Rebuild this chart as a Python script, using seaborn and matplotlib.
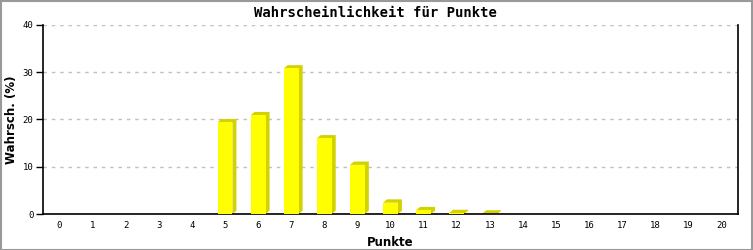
import matplotlib
matplotlib.use("Agg")
import matplotlib.pyplot as plt
import seaborn as sns
import pandas as pd
from matplotlib.patches import Polygon, Rectangle

categories = list(range(0, 21))
values = [0, 0, 0, 0, 0, 19.4, 20.9, 30.8, 16.0, 10.4, 2.4, 0.8, 0.2, 0.1, 0, 0, 0, 0, 0, 0, 0]
yticks = [0, 10, 20, 30, 40]

title = "Wahrscheinlichkeit für Punkte"
xlabel = "Punkte"
ylabel = "Wahrsch. (%)"

sns.set_theme(style="white")
plt.rcParams['font.family'] = ['DejaVu Sans Mono', 'DejaVu Sans']

fig = plt.figure(figsize=(7.53, 2.5), dpi=100)
ax = fig.add_axes([43/753, 36/250, (738-43)/753, (214-25)/250])

df = pd.DataFrame({"Punkte": categories, "Wert": values})

W = 0.45
DX = 0.12
DY = 0.7

# shadow (3D side) drawn from data through axis scales
for x, v in zip(categories, values):
    if v <= 0:
        continue
    x0 = x - W / 2
    x1 = x + W / 2
    poly = Polygon([(x0, v), (x0 + DX, v + DY), (x1 + DX, v + DY), (x1 + DX, DY), (x1, 0), (x1, v)],
                   closed=True, facecolor="#d2d200", edgecolor="none", zorder=2)
    ax.add_patch(poly)

sns.barplot(data=df, x="Punkte", y="Wert", color="#ffff00", width=W, saturation=1,
            edgecolor="none", linewidth=0, ax=ax, zorder=3)
for p, v in zip(ax.patches[-len(values):], values):
    if v <= 0:
        p.set_visible(False)

ax.set_xlim(-0.5, 20.5)
ax.set_ylim(0, 40)
ax.set_yticks(yticks)
ax.set_yticklabels([str(t) for t in yticks])
ax.set_xticks(range(len(categories)))
ax.set_xticklabels([str(c) for c in categories])

ax.grid(axis="y", color="#c0c0c0", linestyle=(0, (2.5, 3.5)), linewidth=1.0, zorder=0)
ax.grid(axis="x", visible=False)
ax.set_axisbelow(True)

for s in ["left", "bottom", "right"]:
    ax.spines[s].set_visible(True)
    ax.spines[s].set_color("black")
    ax.spines[s].set_linewidth(1.2)
ax.spines["top"].set_visible(False)

ax.tick_params(axis="y", which="both", left=True, length=5, width=1, color="black",
               labelsize=6.5, pad=2, labelcolor="black")
ax.tick_params(axis="x", which="both", bottom=False, length=0, labelsize=6.5, pad=5,
               labelcolor="black")

ax.set_xlabel(xlabel, fontsize=8.5, fontweight="bold", family="DejaVu Sans", labelpad=4, color="black")
ax.set_ylabel(ylabel, fontsize=8.5, fontweight="bold", family="DejaVu Sans", color="black")
ax.yaxis.set_label_coords((18 - 43) / 695, 0.5)

fig.text(375 / 753, 1 - 13 / 250, title, ha="center", va="center", fontsize=10,
         fontweight="bold", color="black")

fig.patches.append(Rectangle((0.5 / 753, 0.5 / 250), 1 - 1.5 / 753, 1 - 1.5 / 250,
                             transform=fig.transFigure, fill=False, edgecolor="#999999",
                             linewidth=1.5))

fig.savefig("out.png", dpi=100)
